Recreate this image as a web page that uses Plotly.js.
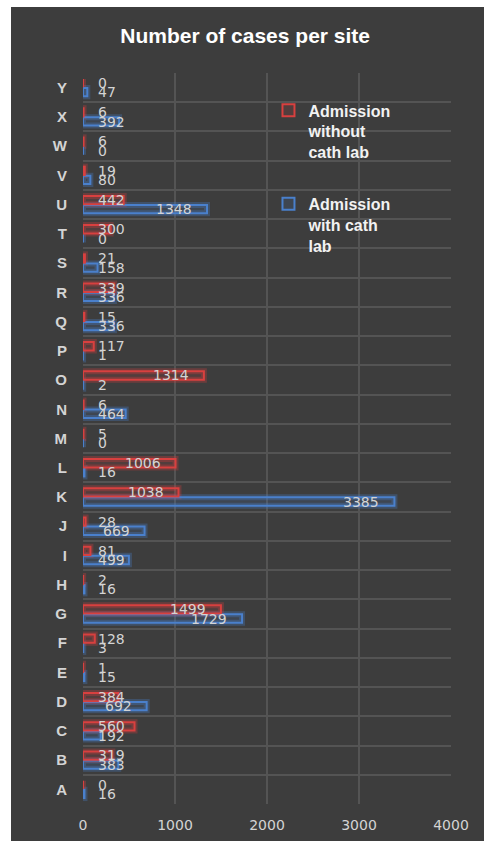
<!DOCTYPE html>
<html><head><meta charset="utf-8">
<script src="https://cdn.plot.ly/plotly-3.0.1.min.js"></script>
<style>
html,body{margin:0;padding:0;background:#ffffff;}
#chart{position:absolute;left:11px;top:7px;width:473px;height:834px;}
</style>
</head><body><div id="chart"></div>
<script>
// ---- data ----
const sites = ['A','B','C','D','E','F','G','H','I','J','K','L','M','N','O','P','Q','R','S','T','U','V','W','X','Y'];
const withoutCathLab = [0,319,560,384,1,128,1499,2,81,28,1038,1006,5,6,1314,117,15,339,21,300,442,19,6,6,0];
const withCathLab    = [16,383,192,692,15,3,1729,16,499,669,3385,16,0,464,2,1,336,336,158,0,1348,80,0,392,47];
const xTicks = [0,1000,2000,3000,4000];
const nameWithout = 'Admission<br>without<br>cath lab';
const nameWith = 'Admission<br>with cath<br>lab';
const chartTitle = 'Number of cases per site';

// ---- style ----
const W = 473, H = 834;
const M = {l:72, r:33, t:66, b:37};
const xMax = 4000;
const RED = '#d8403f', BLUE = '#4a80cc';
const BG = '#3d3d3d', GRID = '#545454', TXT = '#d4d4d4';
const labelFont = {family:'DejaVu Sans, Verdana, sans-serif', size:14, color:TXT};

function barTrace(vals, name, color, fill, group, lineW, show, rank){
  return {
    type:'bar', orientation:'h', x:vals, y:sites, name:name,
    offsetgroup:group, legendgroup:group, showlegend:show, legendrank:rank,
    marker:{color:fill, line:{color:color, width:lineW}},
    hoverinfo: show ? 'x+name' : 'skip'
  };
}

const traces = [
  barTrace(withCathLab, nameWith, 'rgba(74,128,204,0.30)', 'rgba(0,0,0,0)', 'a_blue', 6, false, 3),
  barTrace(withoutCathLab, nameWithout, 'rgba(216,64,63,0.30)', 'rgba(0,0,0,0)', 'b_red', 6, false, 3),
  barTrace(withCathLab, nameWith, BLUE, 'rgba(74,128,204,0.14)', 'a_blue', 2, true, 2),
  barTrace(withoutCathLab, nameWithout, RED, 'rgba(216,64,63,0.14)', 'b_red', 2, true, 1)
];

// value labels: inside end of the bar, or at the bar start when the bar is too short
const pxPerUnit = (W - M.l - M.r) / xMax;
const pad = 13;
function labelFor(v, yPos){
  const tw = String(v).length * 9;
  const fits = v * pxPerUnit - pad - tw >= pad;
  return {
    xref:'x', yref:'y', x: fits ? v : 0, y: yPos,
    xanchor: fits ? 'right' : 'left', xshift: fits ? -pad : pad,
    yanchor:'middle', text:String(v), showarrow:false, font:labelFont
  };
}
const annotations = [];
sites.forEach((s,i)=>{
  annotations.push(labelFor(withoutCathLab[i], i + 0.16));
  annotations.push(labelFor(withCathLab[i], i - 0.16));
});

const layout = {
  width:W, height:H, margin:M,
  paper_bgcolor:BG, plot_bgcolor:'rgba(0,0,0,0)',
  title:{text:chartTitle, xref:'container', x:0.495, xanchor:'center', yref:'container', y:0.966, yanchor:'middle',
         font:{family:'Liberation Sans, Arial, sans-serif', size:21, color:'#ffffff', weight:'bold'}},
  barmode:'group', bargap:0.38, bargroupgap:0.08,
  xaxis:{range:[0,xMax], tickvals:xTicks, ticktext:xTicks.map(String), showgrid:true, gridcolor:GRID, gridwidth:1.5,
         zeroline:false, showline:false, ticks:'', ticklabelstandoff:11,
         tickfont:{family:'DejaVu Sans, Verdana, sans-serif', size:14, color:TXT}, fixedrange:true},
  yaxis:{type:'category', categoryorder:'array', categoryarray:sites, range:[-0.5, sites.length-0.5],
         tickson:'boundaries', showgrid:true, gridcolor:GRID, gridwidth:1.5, zeroline:false, ticks:'',
         ticklabelstandoff:15,
         tickfont:{family:'Liberation Sans, Arial, sans-serif', size:15, color:TXT, weight:'bold'}, fixedrange:true},
  legend:{x:0.504, xanchor:'left', y:0.972, yanchor:'top', bgcolor:'rgba(0,0,0,0)', valign:'top',
          traceorder:'grouped', tracegroupgap:28,
          font:{family:'Liberation Sans, Arial, sans-serif', size:16, color:'#f2f2f2', weight:'bold'}},
  annotations:annotations,
  showlegend:true
};

Plotly.newPlot('chart', traces, layout, {displayModeBar:false, responsive:false});
</script>
</body></html>
